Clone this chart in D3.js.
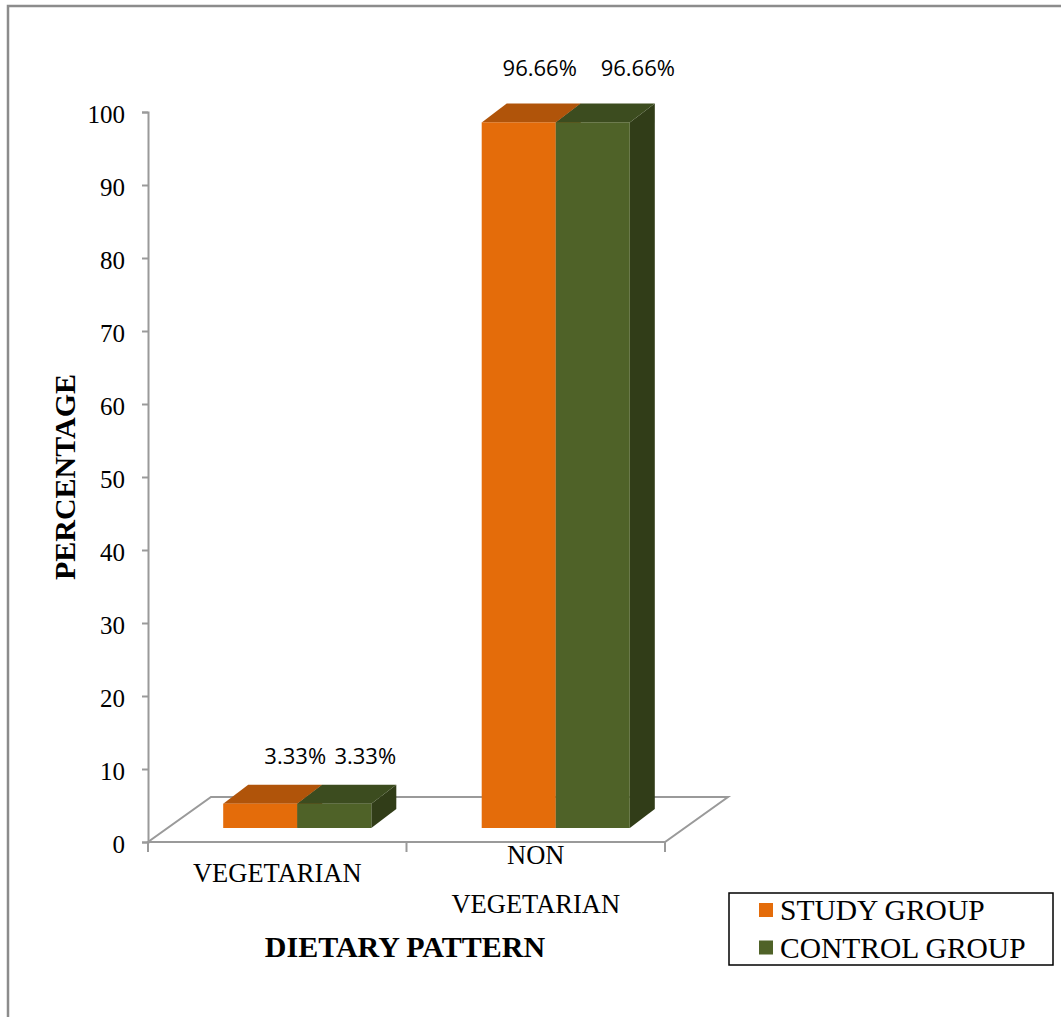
<!DOCTYPE html>
<html>
<head>
<meta charset="utf-8">
<script src="https://cdn.jsdelivr.net/npm/d3@7"></script>
<style>
  html, body { margin: 0; padding: 0; background: #fff; }
  svg { display: block; }
</style>
</head>
<body>
<svg id="chart" width="1061" height="1017"></svg>
<script>
// Dietary pattern of study and control groups
const categories = [["VEGETARIAN"], ["NON", "VEGETARIAN"]];
const categoryKeys = ["VEGETARIAN", "NON VEGETARIAN"];
const seriesNames = ["STUDY GROUP", "CONTROL GROUP"];
const studyGroup = [3.33, 96.66];
const controlGroup = [3.33, 96.66];
const yTicks = [0, 10, 20, 30, 40, 50, 60, 70, 80, 90, 100];

const colors = {
  front: ["#E46C0A", "#4F6228"],
  top: ["#B0540A", "#3C4C1F"],
  side: ["#9A4A08", "#313D18"]
};

const serif = "Liberation Serif, Times New Roman, serif";
const svg = d3.select("#chart");

// Outer frame
svg.append("path")
  .attr("d", "M8,1017 L8,6 L1061,6")
  .attr("fill", "none").attr("stroke", "#8c8c8c").attr("stroke-width", 2.5);

// Plot geometry (front plane) and 3D depth offsets
const x0 = 148, x1 = 665, yBase = 842, yTop = 112;
const floorDepth = { dx: 63, dy: -45 };
const barShift = { dx: 20, dy: -14 };
const barDepth = { dx: 25, dy: -19 };

const y = d3.scaleLinear().domain([0, 100]).range([yBase, yTop]);
const xCat = d3.scaleBand().domain(categoryKeys).range([x0, x1]).paddingInner(0).paddingOuter(0);
const xSer = d3.scaleBand().domain(seriesNames).range([0, xCat.bandwidth()]).paddingOuter(0.7455).paddingInner(0);

// Floor
const floor = svg.append("g").attr("fill", "none").attr("stroke", "#9a9a9a").attr("stroke-width", 2);
floor.append("path").attr("d",
  `M${x0},${yBase} L${x1},${yBase} L${x1 + floorDepth.dx},${yBase + floorDepth.dy} ` +
  `L${x0 + floorDepth.dx},${yBase + floorDepth.dy} Z`);

// Category tick marks below the floor
[x0, x0 + xCat.bandwidth(), x1].forEach(xv => {
  floor.append("line").attr("x1", xv).attr("x2", xv).attr("y1", yBase).attr("y2", yBase + 10);
});

// Y axis
const yAxis = d3.axisLeft(y).tickValues(yTicks).tickSize(6).tickPadding(17).tickFormat(d3.format("d"));
const yg = svg.append("g").attr("transform", `translate(${x0},0)`).call(yAxis);
yg.select(".domain").attr("stroke", "#9a9a9a").attr("stroke-width", 2);
yg.selectAll(".tick line").attr("stroke", "#9a9a9a").attr("stroke-width", 2);
yg.selectAll(".tick text")
  .attr("font-family", serif)
  .attr("font-size", 25).attr("fill", "#000").attr("dy", "0.4em");

// Y axis title
svg.append("text")
  .attr("transform", `translate(75,477) rotate(-90)`)
  .attr("text-anchor", "middle")
  .attr("font-family", serif)
  .attr("font-weight", "bold").attr("font-size", 30)
  .text("PERCENTAGE");

// 3D bars
const series = [studyGroup, controlGroup];
// label placement nudges [category][series] -> [dx, dy] from the bar's top front centre
const labelNudge = [[[35, -40], [31, -40]], [[21, -46], [45, -46]]];
const bars = svg.append("g");
categoryKeys.forEach((cat, ci) => {
  seriesNames.forEach((s, si) => {
    const v = series[si][ci];
    const left = xCat(cat) + xSer(s) + barShift.dx;
    const right = left + xSer.bandwidth();
    const bottom = y(0) + barShift.dy;
    const top = y(v) + barShift.dy;
    const ddx = barDepth.dx, ddy = barDepth.dy;
    // side face
    bars.append("path")
      .attr("d", `M${right},${bottom} L${right + ddx},${bottom + ddy} L${right + ddx},${top + ddy} L${right},${top} Z`)
      .attr("fill", colors.side[si]);
    // top face
    bars.append("path")
      .attr("d", `M${left},${top} L${left + ddx},${top + ddy} L${right + ddx},${top + ddy} L${right},${top} Z`)
      .attr("fill", colors.top[si]);
    // front face
    bars.append("rect")
      .attr("x", left).attr("y", top)
      .attr("width", right - left).attr("height", bottom - top)
      .attr("fill", colors.front[si]);
    // value label
    const [ndx, ndy] = labelNudge[ci][si];
    svg.append("text")
      .attr("x", (left + right) / 2 + ndx)
      .attr("y", top + ndy)
      .attr("text-anchor", "middle")
      .attr("font-family", "Open Sans, Liberation Sans, sans-serif")
      .attr("font-size", 22).attr("fill", "#000")
      .text(d3.format(".2f")(v) + "%");
  });
});

// Category labels
categoryKeys.forEach((cat, ci) => {
  const lines = categories[ci];
  const cx = xCat(cat) + xCat.bandwidth() / 2;
  const t = svg.append("text")
    .attr("text-anchor", "middle")
    .attr("font-family", serif)
    .attr("font-size", 26.5).attr("fill", "#000");
  const startY = lines.length === 1 ? 882 : 864;
  lines.forEach((ln, li) => {
    t.append("tspan").attr("x", cx).attr("y", startY + li * 49).text(ln);
  });
});

// X axis title
svg.append("text")
  .attr("x", 405).attr("y", 957)
  .attr("text-anchor", "middle")
  .attr("font-family", serif)
  .attr("font-weight", "bold").attr("font-size", 30)
  .text("DIETARY PATTERN");

// Legend
const legend = svg.append("g");
legend.append("rect")
  .attr("x", 729).attr("y", 893).attr("width", 324).attr("height", 72)
  .attr("fill", "#fff").attr("stroke", "#000").attr("stroke-width", 1.5);
seriesNames.forEach((s, si) => {
  const ly = 903 + si * 37.5;
  legend.append("rect")
    .attr("x", 759).attr("y", ly).attr("width", 14).attr("height", 14)
    .attr("fill", colors.front[si]);
  legend.append("text")
    .attr("x", 780).attr("y", ly + 17)
    .attr("font-family", serif)
    .attr("font-size", 29.5).attr("fill", "#000")
    .text(s);
});
</script>
</body>
</html>
